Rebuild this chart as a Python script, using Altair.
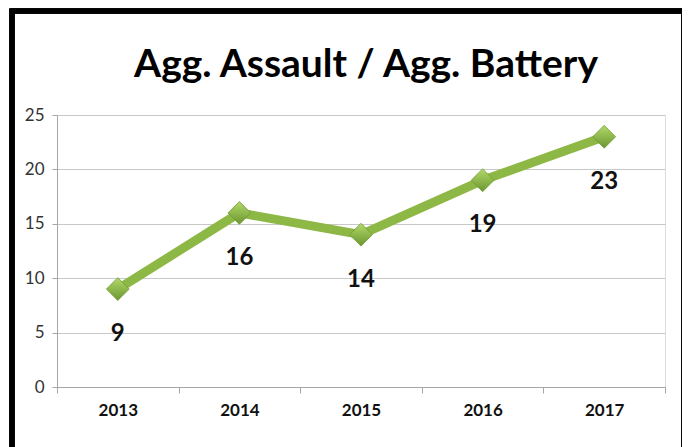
import altair as alt
import pandas as pd

years = ["2013", "2014", "2015", "2016", "2017"]
counts = [9, 16, 14, 19, 23]
title_text = "Agg. Assault / Agg. Battery"

df = pd.DataFrame({"year": years, "count": counts})
tdf = pd.DataFrame({"t": [title_text]})

FONT = "Lato"

x = alt.X("year:N", sort=years, title=None,
          scale=alt.Scale(paddingInner=0, paddingOuter=0),
          axis=alt.Axis(labelFont=FONT, labelFontWeight="bold", labelFontSize=17,
                        labelColor="#111111", labelAngle=0, labelPadding=9,
                        tickBand="extent", tickSize=6, tickColor="#A6A6A6",
                        domainColor="#A6A6A6", grid=False))
y = alt.Y("count:Q", title=None,
          scale=alt.Scale(domain=[0, 25], nice=False),
          axis=alt.Axis(values=[0, 5, 10, 15, 20, 25], labelFont=FONT,
                        labelFontSize=17, labelColor="#333333", labelPadding=8,
                        tickSize=5, tickColor="#A6A6A6", domainColor="#A6A6A6",
                        gridColor="#C8C8C8", gridWidth=1))

base = alt.Chart(df).encode(x=x, y=y)

line = base.mark_line(color="#8DB845", strokeWidth=9, strokeCap="round", strokeJoin="round")

points = base.mark_point(
    shape="diamond", size=520, filled=True, opacity=1,
    fill=alt.Gradient(gradient="linear", x1=0, y1=0, x2=0, y2=1,
                      stops=[alt.GradientStop(offset=0, color="#B2D96A"),
                             alt.GradientStop(offset=1, color="#6B9630")]),
    stroke="#6E9A30", strokeWidth=0.8)

labels = base.mark_text(font=FONT, fontWeight="bold", fontSize=24, color="#111111",
                        dy=45, baseline="middle").encode(text="count:Q")

title = alt.Chart(tdf).mark_text(font=FONT, fontWeight="bold", fontSize=39,
                                 color="#000000", align="center",
                                 baseline="alphabetic").encode(
    text="t:N", x=alt.value(309), y=alt.value(-38))

border = alt.Chart(df).mark_rect(fill=None, stroke="#000000", strokeWidth=5).encode(
    x=alt.value(-45), x2=alt.value(627), y=alt.value(-104), y2=alt.value(400))

chart = alt.layer(line, points, labels, title, border).properties(
    width=608, height=272,
    autosize=alt.AutoSizeParams(type="none"),
    padding={"left": 49, "top": 107, "right": 17, "bottom": 60},
).configure_view(stroke=None).configure(background="#FFFFFF")

chart.save("out.html", embed_options={"renderer": "svg", "actions": False})
